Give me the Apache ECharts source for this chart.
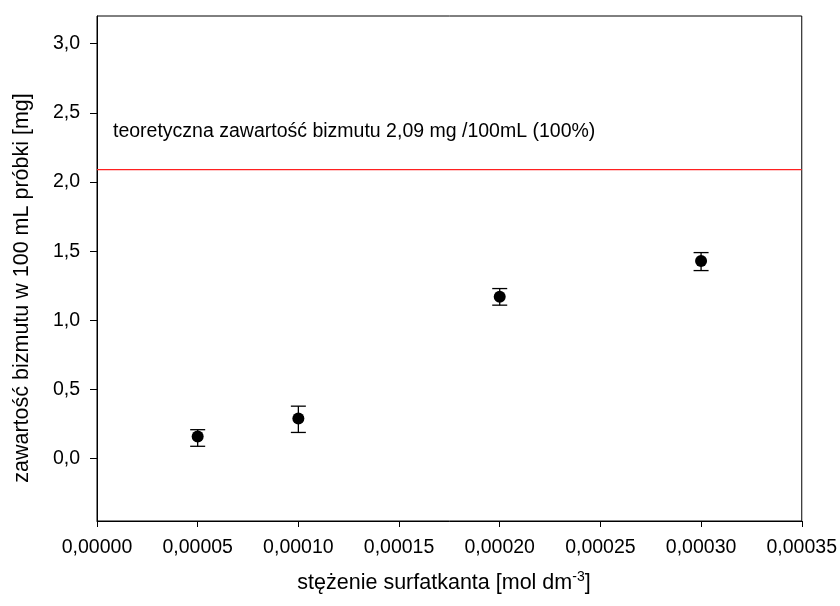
<!DOCTYPE html>
<html>
<head>
<meta charset="utf-8">
<script src="https://cdn.jsdelivr.net/npm/echarts@6/dist/echarts.min.js"></script>
<style>
  html, body { margin: 0; padding: 0; background: #fff; }
  #chart { width: 840px; height: 606px; }
</style>
</head>
<body>
<div id="chart"></div>
<script>
// Surfactant concentration [mol dm^-3]
const concentration = [0.00005, 0.00010, 0.00020, 0.00030];
// Mean bismuth content [mg / 100 mL]
const bismuthMean = [0.16, 0.29, 1.17, 1.43];
// Error bar limits
const bismuthLow = [0.09, 0.19, 1.11, 1.36];
const bismuthHigh = [0.21, 0.38, 1.23, 1.49];
// Theoretical bismuth content (100%)
const theoretical = 2.09;
// Concentration range covered by the reference line
const xRange = [0, 0.00035];
// Tick values of the value axis
const yTicks = [0, 0.5, 1.0, 1.5, 2.0, 2.5, 3.0];

const FONT = '"Liberation Sans", Arial, Helvetica, sans-serif';
const comma = (v, d) => v.toFixed(d).replace('.', ',');

const points = concentration.map((x, i) => [x, bismuthMean[i]]);
const bars = concentration.map((x, i) => [x, bismuthLow[i], bismuthHigh[i]]);
const refLine = xRange.map(x => [x, theoretical]);

const chart = echarts.init(document.getElementById('chart'));
chart.setOption({
  animation: false,
  backgroundColor: '#fff',
  grid: {
    left: 97, right: 37, top: 16, bottom: 85,
    show: true, borderColor: '#000', borderWidth: 1
  },
  xAxis: {
    type: 'value',
    min: xRange[0], max: xRange[1], interval: 0.00005,
    axisLine: { show: true, onZero: false, lineStyle: { color: '#000', width: 1 } },
    axisTick: { show: true, inside: false, length: 6, lineStyle: { color: '#000' } },
    axisLabel: {
      margin: 17, color: '#000', fontSize: 19.5, fontFamily: FONT,
      formatter: v => comma(v, 5)
    },
    splitLine: { show: false }
  },
  yAxis: {
    type: 'value',
    min: -0.45, max: 3.2,
    axisLine: { show: true, onZero: false, lineStyle: { color: '#000', width: 1 } },
    axisTick: { show: true, inside: false, length: 7, customValues: yTicks, lineStyle: { color: '#000' } },
    axisLabel: {
      margin: 17, color: '#000', fontSize: 19.5, fontFamily: FONT,
      customValues: yTicks,
      formatter: v => comma(v, 1)
    },
    splitLine: { show: false }
  },
  series: [
    {
      type: 'line',
      data: refLine,
      symbol: 'none',
      silent: true,
      color: '#ff0000',
      lineStyle: { color: '#ff2020', width: 1.4, opacity: 1 },
      itemStyle: { color: '#ff0000' },
      emphasis: { disabled: true },
      z: 1
    },
    {
      type: 'custom',
      silent: true,
      renderItem: (params, api) => {
        const x = api.value(0);
        const lo = api.coord([x, api.value(1)]);
        const hi = api.coord([x, api.value(2)]);
        const half = 7.5;
        const style = { stroke: '#000', lineWidth: 1.3 };
        return {
          type: 'group',
          children: [
            { type: 'line', shape: { x1: lo[0], y1: lo[1], x2: hi[0], y2: hi[1] }, style },
            { type: 'line', shape: { x1: lo[0] - half, y1: lo[1], x2: lo[0] + half, y2: lo[1] }, style },
            { type: 'line', shape: { x1: hi[0] - half, y1: hi[1], x2: hi[0] + half, y2: hi[1] }, style }
          ]
        };
      },
      encode: { x: 0, y: [1, 2] },
      data: bars,
      z: 2
    },
    {
      type: 'scatter',
      symbol: 'circle',
      symbolSize: 12,
      itemStyle: { color: '#000', opacity: 1 },
      data: points,
      z: 3
    }
  ],
  graphic: [
    {
      type: 'text',
      x: 113, y: 132,
      style: {
        text: 'teoretyczna zawartość bizmutu 2,09 mg /100mL (100%)',
        fill: '#000', fontSize: 19.5, fontFamily: FONT,
        verticalAlign: 'middle', align: 'left'
      }
    },
    {
      type: 'text',
      x: 22, y: 288,
      rotation: Math.PI / 2,
      style: {
        text: 'zawartość bizmutu w 100 mL próbki [mg]',
        fill: '#000', fontSize: 21.5, fontFamily: FONT,
        align: 'center', verticalAlign: 'middle'
      }
    },
    {
      type: 'text',
      x: 444, y: 583,
      style: {
        text: '{a|stężenie surfatkanta [mol dm}{s|-3}{a|]}',
        align: 'center', verticalAlign: 'middle',
        rich: {
          a: { fill: '#000', fontSize: 21.5, fontFamily: FONT },
          s: { fill: '#000', fontSize: 14, fontFamily: FONT, verticalAlign: 'bottom', padding: [0, 0, 11, 0] }
        }
      }
    }
  ]
});
</script>
</body>
</html>
